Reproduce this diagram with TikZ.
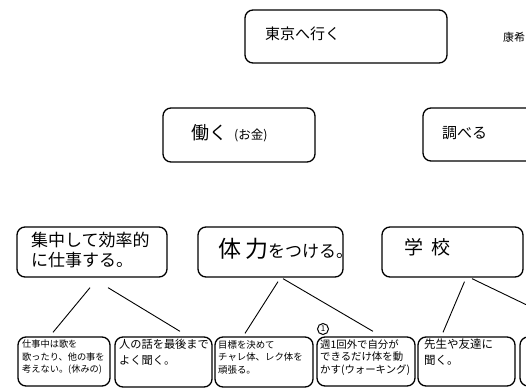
\documentclass[tikz,border=0pt]{standalone}
\usepackage{fontspec}
\newfontfamily\jp{Noto Sans CJK JP}
\usetikzlibrary{calc}
\begin{document}
\begin{tikzpicture}[x=1pt,y=-1pt,
  box/.style={draw=black,line width=1.3pt,rounded corners=8pt,inner sep=0pt},
  conn/.style={draw=black,line width=0.9pt},
  txt/.style={inner sep=0pt,anchor=north west,align=left,font=\jp}]
\useasboundingbox (0,0) rectangle (526,390);
% top
\node[box,minimum width=202pt,minimum height=53pt] (b1) at (346,36.5) {};
\node[txt,font=\jp\fontsize{15}{18}\selectfont] (t1) at (265,27) {東京へ行く};
\node[txt,font=\jp\fontsize{11}{13}\selectfont] (t1b) at (503,32) {康希};
% second row
\node[box,minimum width=152pt,minimum height=54pt] (b2) at (239,135) {};
\node[txt,font=\jp\fontsize{18}{20}\selectfont] (t2) at (191,124) {働く\ \,{\fontsize{12.5}{14}\selectfont(お金)}};
\node[box,minimum width=157pt,minimum height=53pt] (b3) at (501.5,134.5) {};
\node[txt,font=\jp\fontsize{15}{18}\selectfont] (t3) at (442,126) {調べる};
% third row
\node[box,minimum width=150pt,minimum height=50pt] (b4) at (92,252) {};
\node[txt,font=\jp\fontsize{17}{20}\selectfont] (t4) at (31,232) {集中して効率的\\に仕事する。};
\node[box,minimum width=145pt,minimum height=50pt] (b5) at (270.5,252) {};
\node[txt,font=\jp\fontsize{17}{20}\selectfont] (t5) at (218,238) {{\fontsize{23}{24}\selectfont 体\,力}をつける。};
\node[box,minimum width=141pt,minimum height=50pt] (b6) at (452.5,252) {};
\node[txt,font=\jp\fontsize{19}{22}\selectfont] (t6) at (404,238) {学\ \ 校};
% bottom row
\node[box,minimum width=92pt,minimum height=49pt] (b7) at (64,361.5) {};
\node[txt,font=\jp\fontsize{9.2}{12.5}\selectfont] (t7) at (22,340) {仕事中は歌を\\歌ったり、他の事を\\考えない。(休みの)};
\node[box,minimum width=97pt,minimum height=50pt] (b8) at (163.5,362) {};
\node[txt,font=\jp\fontsize{11.2}{16}\selectfont] (t8) at (119,339) {人の話を最後まで\\よく聞く。};
\node[box,minimum width=98pt,minimum height=50pt] (b9) at (264,362) {};
\node[txt,font=\jp\fontsize{9.4}{12.5}\selectfont] (t9) at (218,340) {目標を決めて\\チャレ体、レク体を\\頑張る。};
\node[box,minimum width=98pt,minimum height=49pt] (b10) at (366,361.5) {};
\node[txt,font=\jp\fontsize{10.4}{12.5}\selectfont] (t10) at (320,339) {週1回外で自分が\\できるだけ体を動\\かす(ウォーキング)};
\node[draw=black,line width=1pt,circle,inner sep=1pt,minimum size=11pt,font=\jp\fontsize{8}{9}\selectfont] (c10) at (323,329) {1};
\node[box,minimum width=97pt,minimum height=49pt] (b11) at (466.5,361.5) {};
\node[txt,font=\jp\fontsize{11.5}{16}\selectfont] (t11) at (424,339) {先生や友達に\\聞く。};
\node[box,minimum width=100pt,minimum height=49pt] (b12) at (570,361.5) {};
% connectors
\draw[conn] ([shift={(-2pt,-10pt)}]b4.south) -- ([shift={(-11pt,4pt)}]b7.north);
\draw[conn] ([shift={(16pt,-10pt)}]b4.south) -- ([shift={(16.5pt,5pt)}]b8.north);
\draw[conn] ([shift={(7.5pt,-4pt)}]b5.south) -- ([shift={(-19pt,3pt)}]b9.north);
\draw[conn] ([shift={(12.5pt,-1pt)}]b5.south) -- ([shift={(7pt,5pt)}]b10.north);
\draw[conn] ([shift={(12pt,-4pt)}]b6.south) -- ([shift={(-23.5pt,4pt)}]b11.north);
\draw[conn] ([shift={(19.5pt,-1pt)}]b6.south) -- ([shift={(22pt,0pt)}]b12.north);
\end{tikzpicture}
\end{document}
